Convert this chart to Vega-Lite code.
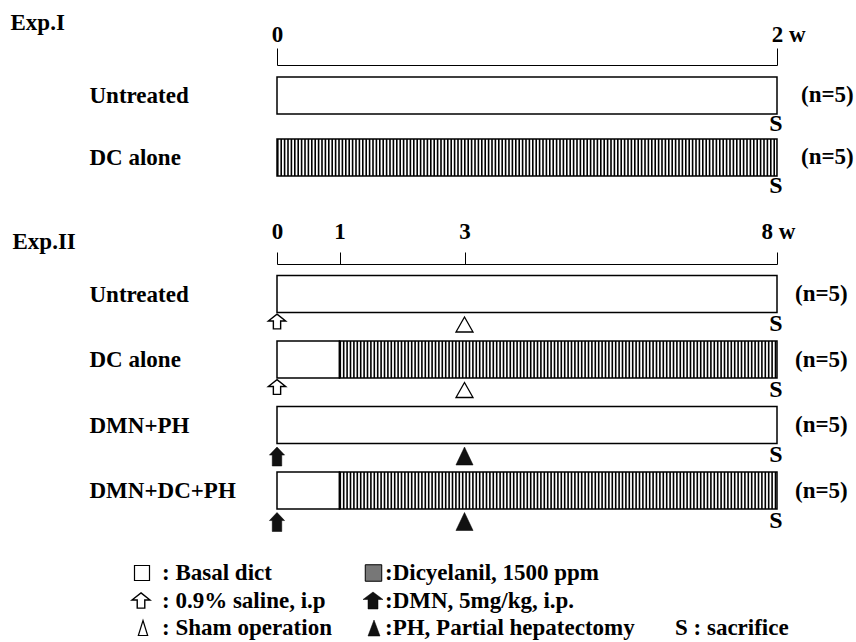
{
  "$schema": "https://vega.github.io/schema/vega-lite/v6.json",
  "width": 856,
  "height": 642,
  "autosize": "none",
  "padding": 0,
  "background": "white",
  "config": {
    "font": "Liberation Serif",
    "view": {"stroke": null},
    "axis": {
      "labelFont": "Liberation Serif", "labelFontWeight": "bold", "labelFontSize": 23, "labelColor": "#000",
      "titleFont": "Liberation Serif", "titleFontWeight": "bold", "titleFontSize": 23, "titleColor": "#000",
      "domainColor": "#000", "tickColor": "#000", "grid": false
    },
    "text": {"font": "Liberation Serif", "fontWeight": "bold", "fontSize": 23, "color": "#000"}
  },
  "datasets": {
    "segments": [
      {"exp": "Exp.I", "group": "Untreated", "start": 0, "end": 2, "diet": "Basal diet"},
      {"exp": "Exp.I", "group": "DC alone", "start": 0, "end": 2, "diet": "Dicyclanil"},
      {"exp": "Exp.II", "group": "Untreated", "start": 0, "end": 8, "diet": "Basal diet"},
      {"exp": "Exp.II", "group": "DC alone", "start": 0, "end": 1, "diet": "Basal diet"},
      {"exp": "Exp.II", "group": "DC alone", "start": 1, "end": 8, "diet": "Dicyclanil"},
      {"exp": "Exp.II", "group": "DMN+PH", "start": 0, "end": 8, "diet": "Basal diet"},
      {"exp": "Exp.II", "group": "DMN+DC+PH", "start": 0, "end": 1, "diet": "Basal diet"},
      {"exp": "Exp.II", "group": "DMN+DC+PH", "start": 1, "end": 8, "diet": "Dicyclanil"}
    ],
    "events": [
      {"exp": "Exp.I", "group": "Untreated", "week": 2, "event": "sacrifice"},
      {"exp": "Exp.I", "group": "DC alone", "week": 2, "event": "sacrifice"},
      {"exp": "Exp.II", "group": "Untreated", "week": 0, "event": "saline"},
      {"exp": "Exp.II", "group": "Untreated", "week": 3, "event": "sham"},
      {"exp": "Exp.II", "group": "Untreated", "week": 8, "event": "sacrifice"},
      {"exp": "Exp.II", "group": "DC alone", "week": 0, "event": "saline"},
      {"exp": "Exp.II", "group": "DC alone", "week": 3, "event": "sham"},
      {"exp": "Exp.II", "group": "DC alone", "week": 8, "event": "sacrifice"},
      {"exp": "Exp.II", "group": "DMN+PH", "week": 0, "event": "dmn"},
      {"exp": "Exp.II", "group": "DMN+PH", "week": 3, "event": "ph"},
      {"exp": "Exp.II", "group": "DMN+PH", "week": 8, "event": "sacrifice"},
      {"exp": "Exp.II", "group": "DMN+DC+PH", "week": 0, "event": "dmn"},
      {"exp": "Exp.II", "group": "DMN+DC+PH", "week": 3, "event": "ph"},
      {"exp": "Exp.II", "group": "DMN+DC+PH", "week": 8, "event": "sacrifice"}
    ],
    "groups": [
      {"exp": "Exp.I", "group": "Untreated", "end": 2, "n": 5},
      {"exp": "Exp.I", "group": "DC alone", "end": 2, "n": 5},
      {"exp": "Exp.II", "group": "Untreated", "end": 8, "n": 5},
      {"exp": "Exp.II", "group": "DC alone", "end": 8, "n": 5},
      {"exp": "Exp.II", "group": "DMN+PH", "end": 8, "n": 5},
      {"exp": "Exp.II", "group": "DMN+DC+PH", "end": 8, "n": 5}
    ],
    "legend": [
      {"col": 0, "row": 0, "key": "basal", "label": ": Basal dict"},
      {"col": 0, "row": 1, "key": "saline", "label": ": 0.9% saline, i.p"},
      {"col": 0, "row": 2, "key": "sham", "label": ": Sham operation"},
      {"col": 1, "row": 0, "key": "dc", "label": ":Dicyelanil, 1500 ppm"},
      {"col": 1, "row": 1, "key": "dmn", "label": ":DMN, 5mg/kg, i.p."},
      {"col": 1, "row": 2, "key": "ph", "label": ":PH, Partial hepatectomy"},
      {"col": 2, "row": 2, "key": "sacrifice", "label": "S  : sacrifice"}
    ]
  },
  "layer": [
    {
      "encoding": {
        "y": {
          "field": "group", "type": "nominal",
          "scale": {"type": "point", "domain": ["Untreated", "DC alone"], "range": [95.5, 157.5], "padding": 0},
          "axis": {
            "orient": "left", "offset": -277, "domain": false, "ticks": false, "tickSize": 0,
            "labelAlign": "left", "labelBaseline": "middle", "labelPadding": 188, "labelLimit": 400, "labelOverlap": false,
            "title": "Exp.I", "titleAngle": 0, "titleAlign": "left", "titleBaseline": "alphabetic", "titleX": -267, "titleY": 29
          }
        }
      },
      "layer": [
        {
          "data": {"name": "segments"},
          "transform": [{"filter": "datum.exp == 'Exp.I'"}],
          "mark": {"type": "bar", "size": 37, "fill": "white"},
          "encoding": {
            "x": {
              "field": "start", "type": "quantitative",
              "scale": {"domain": [0, 2], "range": [277, 777], "nice": false, "zero": false},
              "axis": {
                "orient": "top", "offset": -65, "values": [0, 2],
                "labelExpr": "datum.value == 2 ? '2 w' : '' + datum.value",
                "labelFlush": false, "labelOverlap": false, "labelBound": false,
                "labelAlign": "left", "labelOffset": -5.75, "labelPadding": 2,
                "tickSize": 17, "tickWidth": 1, "domainWidth": 1, "title": null
              }
            },
            "x2": {"field": "end"}
          }
        },
        {
          "data": {"name": "segments"},
          "transform": [{"filter": "datum.exp == 'Exp.I' && datum.diet == 'Dicyclanil'"}],
          "mark": {"type": "rule", "strokeWidth": 37, "strokeDash": [1.6, 1.8], "strokeCap": "butt", "color": "#000"},
          "encoding": {
            "x": {"field": "start", "type": "quantitative", "scale": {"domain": [0, 2], "range": [277, 777], "nice": false, "zero": false}},
            "x2": {"field": "end"}
          }
        },
        {
          "data": {"name": "segments"},
          "transform": [{"filter": "datum.exp == 'Exp.I'"}],
          "mark": {"type": "bar", "size": 37, "fillOpacity": 0, "stroke": "#000", "strokeWidth": 1.5},
          "encoding": {
            "x": {"field": "start", "type": "quantitative", "scale": {"domain": [0, 2], "range": [277, 777], "nice": false, "zero": false}},
            "x2": {"field": "end"}
          }
        },
        {
          "data": {"name": "events"},
          "transform": [{"filter": "datum.exp == 'Exp.I' && datum.event == 'sacrifice'"}],
          "mark": {"type": "text", "text": "S", "fontSize": 24, "align": "center", "baseline": "middle", "yOffset": 28, "dx": -1},
          "encoding": {
            "x": {"field": "week", "type": "quantitative", "scale": {"domain": [0, 2], "range": [277, 777], "nice": false, "zero": false}}
          }
        },
        {
          "data": {"name": "groups"},
          "transform": [{"filter": "datum.exp == 'Exp.I'"}, {"calculate": "'(n=' + datum.n + ')'", "as": "nlabel"}],
          "mark": {"type": "text", "align": "left", "baseline": "middle", "dx": 24, "yOffset": -1},
          "encoding": {
            "x": {"field": "end", "type": "quantitative", "scale": {"domain": [0, 2], "range": [277, 777], "nice": false, "zero": false}},
            "text": {"field": "nlabel"}
          }
        }
      ]
    },
    {
      "encoding": {
        "y": {
          "field": "group", "type": "nominal",
          "scale": {"type": "point", "domain": ["Untreated", "DC alone", "DMN+PH", "DMN+DC+PH"], "range": [294, 490.5], "padding": 0},
          "axis": {
            "orient": "left", "offset": -277, "domain": false, "ticks": false, "tickSize": 0,
            "labelAlign": "left", "labelBaseline": "middle", "labelPadding": 188, "labelLimit": 400, "labelOverlap": false,
            "title": "Exp.II", "titleAngle": 0, "titleAlign": "left", "titleBaseline": "alphabetic", "titleX": -265, "titleY": 248
          }
        }
      },
      "layer": [
        {
          "data": {"name": "segments"},
          "transform": [{"filter": "datum.exp == 'Exp.II'"}],
          "mark": {"type": "bar", "size": 37, "fill": "white"},
          "encoding": {
            "x": {
              "field": "start", "type": "quantitative",
              "scale": {"domain": [0, 8], "range": [277, 777], "nice": false, "zero": false},
              "axis": {
                "orient": "top", "offset": -264, "values": [0, 1, 3, 8],
                "labelExpr": "datum.value == 8 ? '8 w' : '' + datum.value",
                "labelFlush": false, "labelOverlap": false, "labelBound": false,
                "labelAlign": "left",
                "labelOffset": {"condition": {"test": "datum.value == 8", "value": -16}, "value": -5.75},
                "labelPadding": 9,
                "tickSize": 12, "tickWidth": 1, "domainWidth": 1, "title": null
              }
            },
            "x2": {"field": "end"}
          }
        },
        {
          "data": {"name": "segments"},
          "transform": [{"filter": "datum.exp == 'Exp.II' && datum.diet == 'Dicyclanil'"}],
          "mark": {"type": "rule", "strokeWidth": 37, "strokeDash": [1.6, 1.8], "strokeCap": "butt", "color": "#000"},
          "encoding": {
            "x": {"field": "start", "type": "quantitative", "scale": {"domain": [0, 8], "range": [277, 777], "nice": false, "zero": false}},
            "x2": {"field": "end"}
          }
        },
        {
          "data": {"name": "segments"},
          "transform": [{"filter": "datum.exp == 'Exp.II'"}],
          "mark": {"type": "bar", "size": 37, "fillOpacity": 0, "stroke": "#000", "strokeWidth": 1.5},
          "encoding": {
            "x": {"field": "start", "type": "quantitative", "scale": {"domain": [0, 8], "range": [277, 777], "nice": false, "zero": false}},
            "x2": {"field": "end"}
          }
        },
        {
          "data": {"name": "events"},
          "transform": [{"filter": "datum.exp == 'Exp.II' && datum.event == 'sacrifice'"}],
          "mark": {"type": "text", "text": "S", "fontSize": 24, "align": "center", "baseline": "middle", "yOffset": 30, "dx": -1},
          "encoding": {
            "x": {"field": "week", "type": "quantitative", "scale": {"domain": [0, 8], "range": [277, 777], "nice": false, "zero": false}}
          }
        },
        {
          "data": {"name": "events"},
          "transform": [{"filter": "datum.exp == 'Exp.II' && datum.event == 'saline'"}],
          "mark": {"type": "point", "shape": "M0,-0.85L1,-0.05L0.42,-0.05L0.42,0.85L-0.42,0.85L-0.42,-0.05L-1,-0.05Z", "size": 300, "filled": true, "fill": "white", "stroke": "#000", "strokeWidth": 1.4, "opacity": 1, "yOffset": 27.5},
          "encoding": {
            "x": {"field": "week", "type": "quantitative", "scale": {"domain": [0, 8], "range": [277, 777], "nice": false, "zero": false}}
          }
        },
        {
          "data": {"name": "events"},
          "transform": [{"filter": "datum.exp == 'Exp.II' && datum.event == 'sham'"}],
          "mark": {"type": "point", "shape": "M0,-0.88L1,0.88L-1,0.88Z", "size": 289, "filled": true, "fill": "white", "stroke": "#000", "strokeWidth": 1.3, "opacity": 1, "yOffset": 30.5},
          "encoding": {
            "x": {"field": "week", "type": "quantitative", "scale": {"domain": [0, 8], "range": [277, 777], "nice": false, "zero": false}}
          }
        },
        {
          "data": {"name": "events"},
          "transform": [{"filter": "datum.exp == 'Exp.II' && datum.event == 'dmn'"}],
          "mark": {"type": "point", "shape": "M0,-1L0.8,-0.15L0.5,-0.15L0.5,1L-0.5,1L-0.5,-0.15L-0.8,-0.15Z", "size": 361, "filled": true, "fill": "#111", "stroke": "#000", "strokeWidth": 0.5, "opacity": 1, "yOffset": 31.5},
          "encoding": {
            "x": {"field": "week", "type": "quantitative", "scale": {"domain": [0, 8], "range": [277, 777], "nice": false, "zero": false}}
          }
        },
        {
          "data": {"name": "events"},
          "transform": [{"filter": "datum.exp == 'Exp.II' && datum.event == 'ph'"}],
          "mark": {"type": "point", "shape": "M0,-1L0.95,1L-0.95,1Z", "size": 324, "filled": true, "fill": "#111", "stroke": "#000", "strokeWidth": 0.5, "opacity": 1, "yOffset": 31},
          "encoding": {
            "x": {"field": "week", "type": "quantitative", "scale": {"domain": [0, 8], "range": [277, 777], "nice": false, "zero": false}}
          }
        },
        {
          "data": {"name": "groups"},
          "transform": [{"filter": "datum.exp == 'Exp.II'"}, {"calculate": "'(n=' + datum.n + ')'", "as": "nlabel"}],
          "mark": {"type": "text", "align": "left", "baseline": "middle", "dx": 18},
          "encoding": {
            "x": {"field": "end", "type": "quantitative", "scale": {"domain": [0, 8], "range": [277, 777], "nice": false, "zero": false}},
            "text": {"field": "nlabel"}
          }
        }
      ]
    },
    {
      "data": {"name": "legend"},
      "encoding": {
        "x": {"field": "col", "type": "quantitative", "scale": {"domain": [0, 1, 2], "range": [162, 385, 675], "nice": false, "zero": false}, "axis": null},
        "y": {"field": "row", "type": "quantitative", "scale": {"domain": [0, 2], "range": [573, 628], "nice": false, "zero": false}, "axis": null}
      },
      "layer": [
        {
          "mark": {"type": "text", "align": "left", "baseline": "middle"},
          "encoding": {"text": {"field": "label"}}
        },
        {
          "transform": [{"filter": "datum.key == 'basal'"}],
          "mark": {"type": "point", "shape": "square", "size": 225, "filled": true, "fill": "white", "stroke": "#000", "strokeWidth": 1.2, "opacity": 1, "xOffset": -20}
        },
        {
          "transform": [{"filter": "datum.key == 'saline'"}],
          "mark": {"type": "point", "shape": "M0,-0.85L1,-0.05L0.42,-0.05L0.42,0.85L-0.42,0.85L-0.42,-0.05L-1,-0.05Z", "size": 324, "filled": true, "fill": "white", "stroke": "#000", "strokeWidth": 1.4, "opacity": 1, "xOffset": -21}
        },
        {
          "transform": [{"filter": "datum.key == 'sham'"}],
          "mark": {"type": "point", "shape": "M0,-1L0.62,1L-0.62,1Z", "size": 225, "filled": true, "fill": "white", "stroke": "#000", "strokeWidth": 1.2, "opacity": 1, "xOffset": -19}
        },
        {
          "transform": [{"filter": "datum.key == 'dc'"}],
          "mark": {"type": "point", "shape": "square", "size": 272, "filled": true, "fill": "#777", "stroke": "#000", "strokeWidth": 1, "opacity": 1, "xOffset": -11.5}
        },
        {
          "transform": [{"filter": "datum.key == 'dmn'"}],
          "mark": {"type": "point", "shape": "M0,-0.85L1,-0.1L0.5,-0.1L0.5,0.85L-0.5,0.85L-0.5,-0.1L-1,-0.1Z", "size": 400, "filled": true, "fill": "#111", "stroke": "#000", "strokeWidth": 0.5, "opacity": 1, "xOffset": -12}
        },
        {
          "transform": [{"filter": "datum.key == 'ph'"}],
          "mark": {"type": "point", "shape": "M0,-1L0.75,1L-0.75,1Z", "size": 256, "filled": true, "fill": "#111", "stroke": "#000", "strokeWidth": 0.5, "opacity": 1, "xOffset": -11}
        }
      ]
    }
  ],
  "resolve": {"scale": {"x": "independent", "y": "independent"}}
}
